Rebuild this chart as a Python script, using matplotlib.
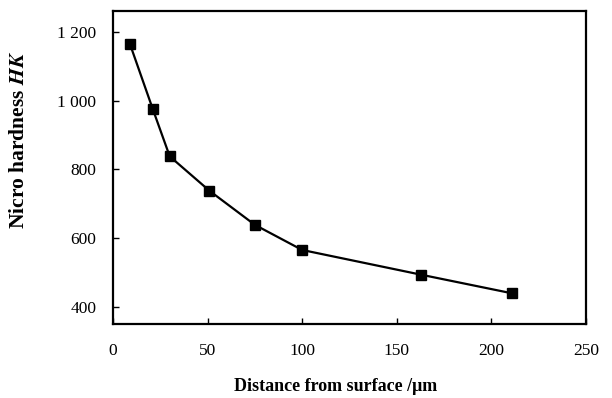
import matplotlib
matplotlib.use("Agg")
import matplotlib.pyplot as plt

# values
distance = [9, 21, 30, 51, 75, 100, 163, 211]
hardness = [1164, 976, 838, 738, 639, 566, 494, 440]
y_ticks = [400, 600, 800, 1000, 1200]
y_tick_labels = ["400", "600", "800", "1 000", "1 200"]
x_ticks = [0, 50, 100, 150, 200, 250]

plt.rcParams['font.family'] = ['Liberation Serif', 'DejaVu Serif']
plt.rcParams['mathtext.fontset'] = 'stix'

fig = plt.figure(figsize=(6.12, 3.98), dpi=100)
ax = fig.add_axes([0.1846, 0.186, 0.7729, 0.786])

ax.plot(distance, hardness, color='black', lw=1.6, marker='s', ms=7.5,
        markerfacecolor='black', markeredgecolor='black')

ax.set_xlim(0, 250)
ax.set_ylim(351, 1260)
ax.set_xticks(x_ticks)
ax.set_yticks(y_ticks)
ax.set_yticklabels(y_tick_labels)

ax.tick_params(direction='in', length=4, width=1, labelsize=12.5)
ax.tick_params(axis='x', pad=14)
ax.tick_params(axis='y', pad=12)
for s in ax.spines.values():
    s.set_linewidth(1.6)

ax.set_xlabel("Distance from surface /μm", fontsize=13, fontweight='bold')
ax.set_ylabel(r"Nicro hardness $\boldsymbol{HK}$", fontsize=15.5, fontweight='bold')
ax.xaxis.label.set_va('center')
ax.xaxis.set_label_coords(0.471, -0.201)
ax.yaxis.set_label_coords(-0.178, 0.59)

fig.savefig("out.png", dpi=100)
